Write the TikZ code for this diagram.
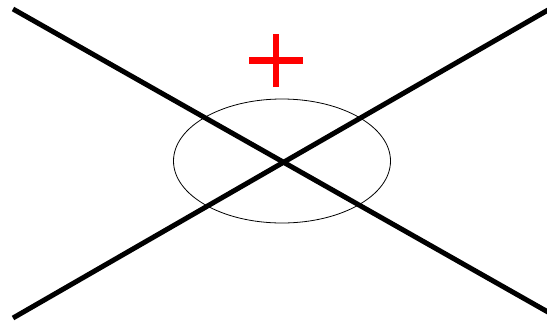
\documentclass[tikz,border=0pt]{standalone}
\begin{document}
\begin{tikzpicture}[x=1pt, y=-1pt,
  crossline/.style={line width=5pt, black},
  ring/.style={draw, line width=0.8pt},
  plusbar/.style={line width=6.5pt, red},
]
\useasboundingbox (0,0) rectangle (547,325);

% ---- Ellipse in the middle ----
\coordinate (mid) at (282,161);
\draw[ring] (mid) ellipse (108.5 and 62);

% ---- The two crossing lines ----
\coordinate (tl) at (13,9);
\coordinate (bl) at (13,318);
\coordinate (br) at (555,316);
\coordinate (tr) at (555,6);
\draw[crossline] (tl) -- (br);
\draw[crossline] (bl) -- (tr);

% ---- Red plus above ----
\coordinate (plus) at (276,60.5);
\draw[plusbar] ([xshift=-27pt]plus) -- ([xshift=27pt]plus);
\draw[plusbar] ([yshift=-26.5pt]plus) -- ([yshift=26.5pt]plus);

\end{tikzpicture}
\end{document}
